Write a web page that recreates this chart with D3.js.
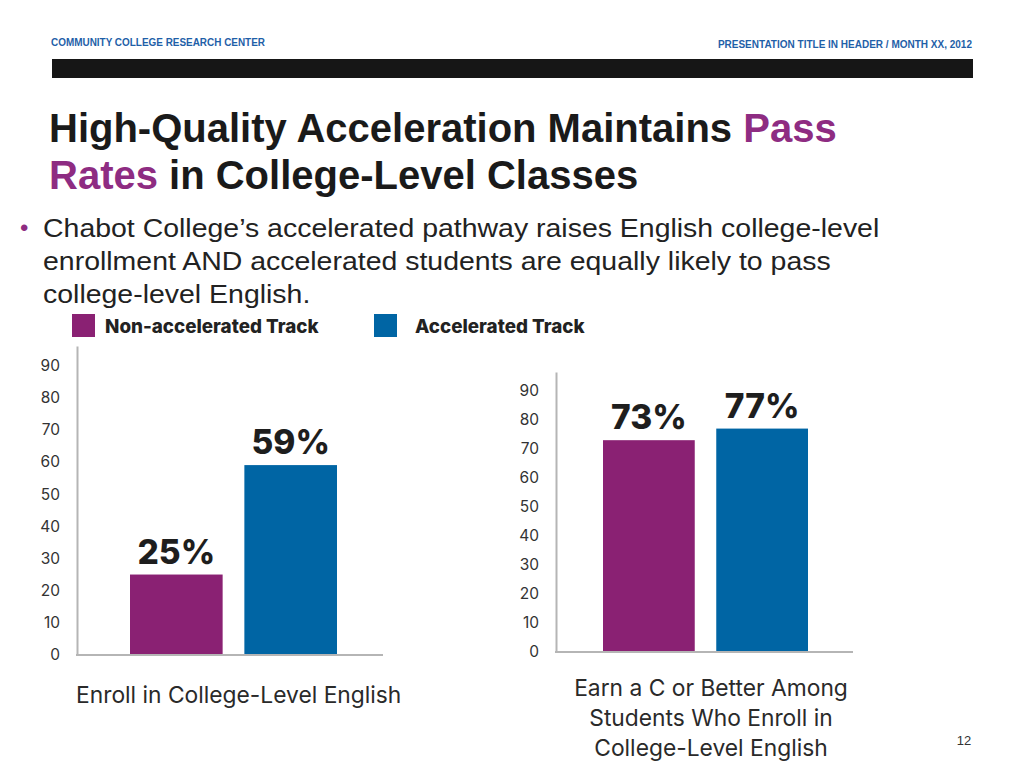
<!DOCTYPE html>
<html>
<head>
<meta charset="utf-8">
<script src="https://cdn.jsdelivr.net/npm/d3@7"></script>
<style>
  body { margin: 0; background: #fff; }
  svg { display: block; }
</style>
</head>
<body>
<svg width="1024" height="768"></svg>
<script>
// data
const tracks = ["Non-accelerated Track", "Accelerated Track"];
const trackColors = ["#8a2173", "#0065a4"];
const enrollValues = [25, 59];
const passValues = [73, 77];
const yTicks = [0, 10, 20, 30, 40, 50, 60, 70, 80, 90];
const enrollLabel = ["Enroll in College-Level English"];
const passLabel = ["Earn a C or Better Among", "Students Who Enroll in", "College-Level English"];

const svg = d3.select("svg");
const chartFont = "Inter, 'Noto Sans', sans-serif";

// header
svg.append("text")
    .attr("x", 51).attr("y", 46)
    .attr("font-family", "'Liberation Sans Narrow', 'Liberation Sans', Arial, sans-serif")
    .attr("font-weight", "bold").attr("font-size", 10)
    .attr("fill", "#1f5fa8")
    .attr("textLength", 214).attr("lengthAdjust", "spacingAndGlyphs")
    .text("COMMUNITY COLLEGE RESEARCH CENTER");

svg.append("text")
    .attr("x", 972).attr("y", 48)
    .attr("text-anchor", "end")
    .attr("font-family", "'Liberation Sans Narrow', 'Liberation Sans', Arial, sans-serif")
    .attr("font-weight", "bold").attr("font-size", 10)
    .attr("fill", "#1f5fa8")
    .text("PRESENTATION TITLE IN HEADER / MONTH XX, 2012");

svg.append("rect")
    .attr("x", 52).attr("y", 59).attr("width", 921).attr("height", 19)
    .attr("fill", "#161616");

// title
const title = svg.append("text")
    .attr("font-family", "'Liberation Sans', Arial, sans-serif")
    .attr("font-weight", "bold").attr("font-size", 40)
    .attr("fill", "#1a1a1a");
title.append("tspan").attr("x", 49).attr("y", 142).text("High-Quality Acceleration Maintains ");
title.append("tspan").attr("fill", "#8e2c82").text("Pass");
title.append("tspan").attr("x", 49).attr("dy", 47).attr("fill", "#8e2c82").text("Rates");
title.append("tspan").text(" in College-Level Classes");

// bullet
svg.append("text")
    .attr("x", 20).attr("y", 236)
    .attr("font-family", "'Liberation Sans', Arial, sans-serif")
    .attr("font-size", 24).attr("fill", "#8e2c82")
    .text("\u2022");

const bullet = svg.append("text")
    .attr("transform", "translate(43,0) scale(1.095,1)")
    .attr("font-family", "'Liberation Sans', Arial, sans-serif")
    .attr("font-size", 26).attr("fill", "#222");
["Chabot College\u2019s accelerated pathway raises English college-level",
 "enrollment AND accelerated students are equally likely to pass",
 "college-level English."].forEach((t, i) => {
    bullet.append("tspan").attr("x", 0).attr("y", 237 + i * 33).text(t);
});

// legend
const legendX = [72, 374];
const legend = svg.append("g").selectAll("g")
    .data(tracks)
    .join("g")
    .attr("transform", (d, i) => `translate(${legendX[i]},314)`);
legend.append("rect")
    .attr("width", 23).attr("height", 23)
    .attr("fill", (d, i) => trackColors[i]);
legend.append("text")
    .attr("x", (d, i) => i === 0 ? 33 : 41)
    .attr("y", 18.5)
    .attr("font-family", chartFont)
    .attr("font-weight", 800).attr("font-size", 18.8)
    .attr("fill", "#222")
    .text(d => d);

// one bar chart
function barChart(values, opts) {
    const g = svg.append("g");
    const y = d3.scaleLinear().domain([0, opts.yMax]).range([opts.y0, opts.yTop]);
    const x = d3.scaleBand().domain(tracks).range(opts.bars).paddingInner(0.19);

    const yAxis = g.append("g")
        .attr("transform", `translate(${opts.axisX},0)`)
        .call(d3.axisLeft(y).tickValues(yTicks).tickSize(0).tickSizeOuter(0).tickPadding(17));
    yAxis.select(".domain").attr("stroke", "#b5b5b5").attr("stroke-width", 2);
    yAxis.selectAll("text")
        .attr("font-family", chartFont)
        .attr("font-size", 15.5)
        .attr("fill", "#333");

    g.append("line")
        .attr("x1", opts.axisX - 1).attr("x2", opts.baseEnd)
        .attr("y1", y(0)).attr("y2", y(0))
        .attr("stroke", "#b5b5b5").attr("stroke-width", 2);

    g.selectAll("rect.bar")
        .data(values)
        .join("rect")
        .attr("class", "bar")
        .attr("x", (d, i) => x(tracks[i]))
        .attr("width", x.bandwidth())
        .attr("y", d => y(d))
        .attr("height", d => y(0) - y(d) - 1)
        .attr("fill", (d, i) => trackColors[i]);

    g.selectAll("text.val")
        .data(values)
        .join("text")
        .attr("class", "val")
        .attr("x", (d, i) => x(tracks[i]) + x.bandwidth() / 2)
        .attr("y", d => y(d) - 11)
        .attr("text-anchor", "middle")
        .attr("font-family", chartFont)
        .attr("font-weight", 800).attr("font-size", 33.5)
        .attr("fill", "#1e1e1e")
        .text(d => d + "%");

    g.selectAll("text.cat")
        .data(opts.label)
        .join("text")
        .attr("class", "cat")
        .attr("x", opts.labelX)
        .attr("y", (d, i) => opts.labelY + i * 30)
        .attr("text-anchor", opts.anchor)
        .attr("font-family", chartFont)
        .attr("font-size", 22.8)
        .attr("fill", "#2a2a2a")
        .text(d => d);
}

barChart(enrollValues, {
    yMax: 96, y0: 655, yTop: 346, axisX: 77, baseEnd: 383,
    bars: [130, 337], label: enrollLabel, labelX: 76, labelY: 703, anchor: "start"
});

barChart(passValues, {
    yMax: 96.5, y0: 652, yTop: 372, axisX: 556, baseEnd: 853,
    bars: [603, 808], label: passLabel, labelX: 711, labelY: 696, anchor: "middle"
});

// page number
svg.append("text")
    .attr("x", 964).attr("y", 745)
    .attr("text-anchor", "middle")
    .attr("font-family", "'Liberation Sans', Arial, sans-serif")
    .attr("font-size", 13).attr("fill", "#333")
    .text("12");
</script>
</body>
</html>
